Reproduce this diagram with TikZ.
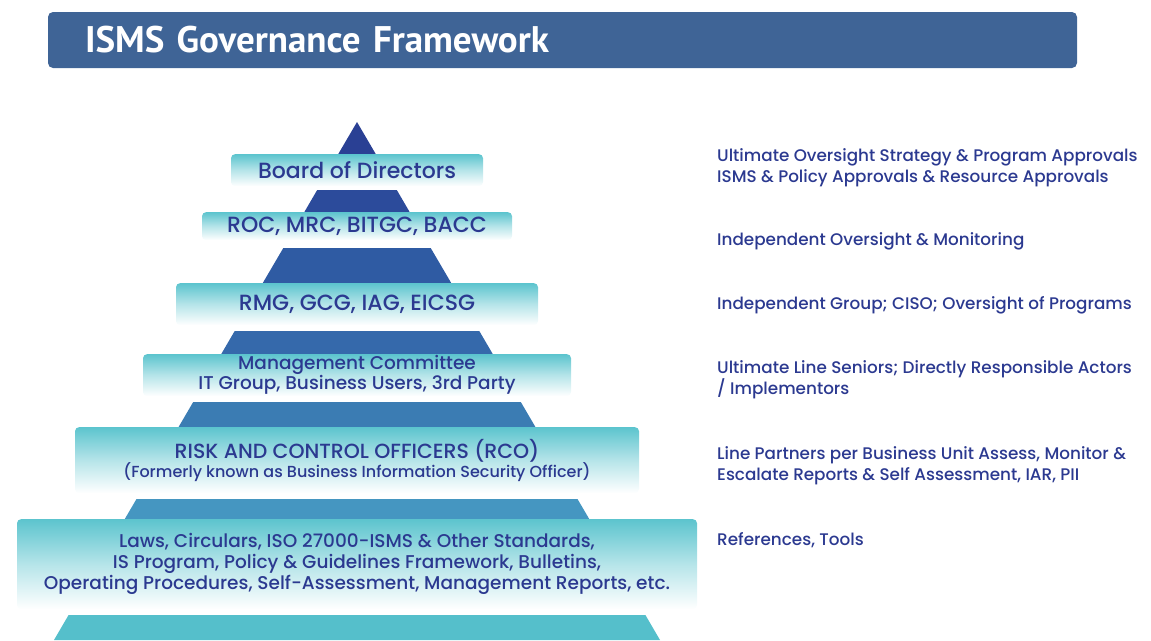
\documentclass[tikz,border=0pt]{standalone}
\usepackage{fontspec}
\usepackage{tikz}
\setmainfont{Poppins}
\newfontfamily\bandfont{Poppins Medium}
\newfontfamily\titlefont{PT Sans}

\definecolor{barblue}{RGB}{63,100,150}
\definecolor{textnavy}{RGB}{43,57,144}
\definecolor{bandteal}{RGB}{92,196,206}
\definecolor{seg1}{RGB}{42,64,148}
\definecolor{seg2}{RGB}{44,75,155}
\definecolor{seg3}{RGB}{47,91,163}
\definecolor{seg4}{RGB}{53,105,171}
\definecolor{seg5}{RGB}{59,124,179}
\definecolor{seg6}{RGB}{69,150,193}
\definecolor{seg7}{RGB}{85,191,203}

\begin{document}
\begin{tikzpicture}[x=1pt, y=-1pt,
    band/.style={anchor=north, rounded corners=4pt, top color=bandteal, bottom color=white,
        middle color=bandteal!45, text=textnavy, align=center, inner sep=0pt,
        font=\bandfont\fontsize{18.5}{20}\selectfont},
    role/.style={anchor=west, text=textnavy, align=left, inner sep=0pt,
        font=\bandfont\fontsize{16.8}{21}\selectfont}]
            \useasboundingbox (0,0) rectangle (1151,640);

            % Title
            \node[fill=barblue, rounded corners=5pt, minimum width=1029, minimum height=56,
                text width=955, inner xsep=37, align=left, text=white,
                font=\titlefont\bfseries\fontsize{37}{40}\selectfont] (T) at (562.5,40) {ISMS Governance Framework};

            % Pyramid
            \fill[seg1] (357,122) -- (376.9,156) -- (337.1,156) -- cycle;
            \fill[seg2] (317.2,190) -- (396.8,190) -- (410.8,214) -- (303.2,214) -- cycle;
            \fill[seg3] (283.3,248) -- (430.7,248) -- (452.4,285) -- (261.6,285) -- cycle;
            \fill[seg4] (234.7,331) -- (479.3,331) -- (493.9,356) -- (220.1,356) -- cycle;
            \fill[seg5] (193.2,402) -- (520.8,402) -- (536.6,429) -- (177.4,429) -- cycle;
            \fill[seg6] (136.5,499) -- (577.5,499) -- (590.4,521) -- (123.6,521) -- cycle;
            \fill[seg7] (68.6,615) -- (645.4,615) -- (660,640) -- (54,640) -- cycle;

            % Nodes
            \node[band, minimum width=252, minimum height=32, font=\bandfont\fontsize{22}{24}\selectfont] (B1) at (357,154) {Board of Directors};
            \node[band, minimum width=310, minimum height=28, font=\bandfont\fontsize{22}{24}\selectfont] (B2) at (357,212) {ROC, MRC, BITGC, BACC};
            \node[band, minimum width=362, minimum height=42, font=\bandfont\fontsize{22}{24}\selectfont] (B3) at (357,283) {RMG, GCG, IAG, EICSG};
            \node[band, minimum width=428, minimum height=42] (B4) at (357,354) {Management Committee\\IT Group, Business Users, 3rd Party};
            \node[band, minimum width=564, minimum height=66, font=\bandfont\fontsize{20.5}{19}\selectfont] (B5) at (357,427) {RISK AND CONTROL OFFICERS (RCO)\\{\fontsize{16}{19}\selectfont(Formerly known as Business Information Security Officer)}};
            \node[band, minimum width=680, minimum height=90, font=\bandfont\fontsize{18.5}{21}\selectfont] (B6) at (357,519) {Laws, Circulars, ISO 27000-ISMS \& Other Standards,\\IS Program, Policy \& Guidelines Framework, Bulletins,\\Operating Procedures, Self-Assessment, Management Reports, etc.};

            % Roles
            \node[role] (R1) at (717,167.5) {Ultimate Oversight Strategy \& Program Approvals\\ISMS \& Policy Approvals \& Resource Approvals};
            \node[role] (R2) at (717,241) {Independent Oversight \& Monitoring};
            \node[role] (R3) at (717,305) {Independent Group; CISO; Oversight of Programs};
            \node[role] (R4) at (717,380) {Ultimate Line Seniors; Directly Responsible Actors\\/ Implementors};
            \node[role] (R5) at (717,465.5) {Line Partners per Business Unit Assess, Monitor \&\\Escalate Reports \& Self Assessment, IAR, PII};
            \node[role] (R6) at (717,540) {References, Tools};
\end{tikzpicture}
\end{document}
